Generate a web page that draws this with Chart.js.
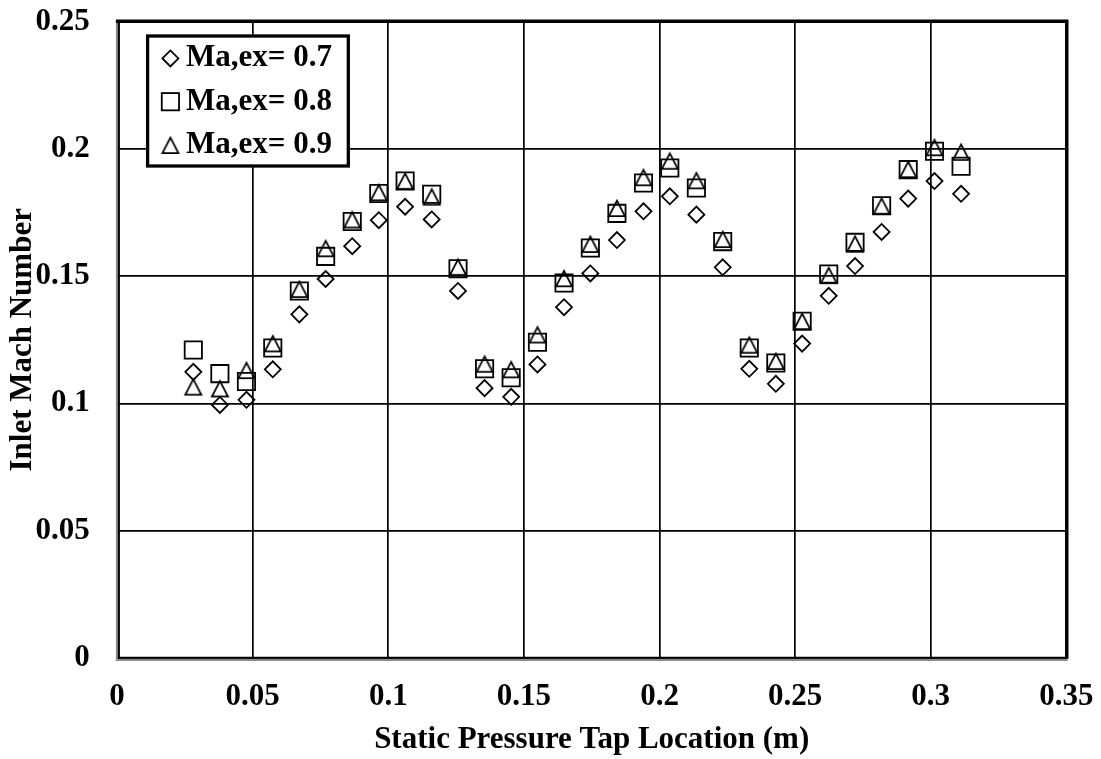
<!DOCTYPE html>
<html><head><meta charset="utf-8">
<script src="https://cdn.jsdelivr.net/npm/chart.js@4/dist/chart.umd.min.js"></script>
<style>html,body{margin:0;padding:0;background:#fff}canvas{display:block}</style>
</head><body>
<canvas id="c" width="1101" height="759"></canvas>
<script>
// ---- data ----
const seriesLabels = ['Ma,ex= 0.7', 'Ma,ex= 0.8', 'Ma,ex= 0.9'];
const tapLocation = [0.0281,0.0379,0.0477,0.0574,0.0672,0.0769,0.0867,0.0965,0.1062,0.1160,
                     0.1257,0.1355,0.1453,0.1550,0.1648,0.1745,0.1843,0.1941,0.2038,0.2136,
                     0.2233,0.2331,0.2429,0.2526,0.2624,0.2721,0.2819,0.2917,0.3014,0.3112];
const machEx07 = [0.1124,0.0994,0.1014,0.1134,0.1350,0.1489,0.1618,0.1720,0.1773,0.1723,
                  0.1442,0.1060,0.1026,0.1153,0.1378,0.1511,0.1642,0.1755,0.1814,0.1742,
                  0.1535,0.1136,0.1077,0.1235,0.1423,0.1540,0.1674,0.1805,0.1874,0.1824];
const machEx08 = [0.1210,0.1117,0.1086,0.1218,0.1442,0.1578,0.1715,0.1825,0.1874,0.1822,
                  0.1529,0.1136,0.1101,0.1240,0.1473,0.1611,0.1747,0.1866,0.1925,0.1847,
                  0.1636,0.1218,0.1159,0.1323,0.1509,0.1633,0.1777,0.1919,0.1991,0.1932];
const machEx09 = [0.1066,0.1059,0.1131,0.1236,0.1450,0.1610,0.1723,0.1830,0.1875,0.1813,
                  0.1537,0.1156,0.1134,0.1271,0.1492,0.1627,0.1768,0.1889,0.1954,0.1877,
                  0.1646,0.1231,0.1167,0.1324,0.1504,0.1628,0.1777,0.1921,0.2007,0.1989];
const xTickValues = [0, 0.05, 0.1, 0.15, 0.2, 0.25, 0.3, 0.35];
const xTickLabels = ['0', '0.05', '0.1', '0.15', '0.2', '0.25', '0.3', '0.35'];
const yTickValues = [0, 0.05, 0.1, 0.15, 0.2, 0.25];
const yTickLabels = ['0', '0.05', '0.1', '0.15', '0.2', '0.25'];
const xTitle = 'Static Pressure Tap Location (m)';
const yTitle = 'Inlet Mach Number';

// ---- styling ----
const FONT = "'Liberation Serif', 'Times New Roman', serif";
const LW = 1.8;

function pairs(xs, ys) { return xs.map((x, i) => ({x: x, y: ys[i]})); }

// centered open triangle marker
function makeTriangle() {
  const c = document.createElement('canvas');
  c.width = 24; c.height = 24;
  const g = c.getContext('2d');
  g.strokeStyle = '#000';
  g.lineWidth = LW;
  g.lineJoin = 'miter';
  g.beginPath();
  g.moveTo(12, 4.6);
  g.lineTo(12 + 8.0, 20.2);
  g.lineTo(12 - 8.0, 20.2);
  g.closePath();
  g.stroke();
  return c;
}
const triImg = makeTriangle();

function drawMarker(ctx, kind, x, y) {
  ctx.save();
  ctx.strokeStyle = '#000';
  ctx.lineWidth = LW;
  ctx.lineJoin = 'miter';
  if (kind === 'triangle') {
    ctx.drawImage(triImg, x - 12, y - 12);
  } else if (kind === 'rect') {
    const h = 12.2 * Math.SQRT1_2;
    ctx.strokeRect(x - h, y - h, 2 * h, 2 * h);
  } else {
    const r = 8;
    ctx.beginPath();
    ctx.moveTo(x - r, y); ctx.lineTo(x, y - r); ctx.lineTo(x + r, y); ctx.lineTo(x, y + r);
    ctx.closePath(); ctx.stroke();
  }
  ctx.restore();
}

const framePlugin = {
  id: 'frame',
  afterDatasetsDraw(chart) {
    const {ctx, chartArea: a} = chart;
    ctx.save();
    ctx.strokeStyle = '#8c8c8c';
    ctx.lineWidth = 2;
    ctx.beginPath();
    ctx.moveTo(a.left - 0.2, a.top); ctx.lineTo(a.left - 0.2, a.bottom + 2.1); ctx.lineTo(a.right + 1.5, a.bottom + 2.1);
    ctx.stroke();
    ctx.strokeStyle = '#000';
    ctx.lineWidth = 2;
    ctx.beginPath();
    ctx.moveTo(a.left + 1.8, a.top); ctx.lineTo(a.left + 1.8, a.bottom - 0.1); ctx.lineTo(a.right, a.bottom - 0.1);
    ctx.stroke();
    ctx.lineWidth = 3.4;
    ctx.beginPath();
    ctx.moveTo(a.left - 1.2, a.top - 0.5); ctx.lineTo(a.right + 0.5, a.top - 0.5); ctx.lineTo(a.right + 0.5, a.bottom + 1);
    ctx.stroke();
    ctx.restore();
  }
};

const legendPlugin = {
  id: 'boxLegend',
  afterDraw(chart) {
    const ctx = chart.ctx;
    ctx.save();
    ctx.fillStyle = '#fff';
    ctx.fillRect(147.6, 36, 200.7, 130);
    ctx.strokeStyle = '#000';
    ctx.lineWidth = 3.3;
    ctx.strokeRect(147.6, 36, 200.7, 130);
    const kinds = ['diamond', 'rect', 'triangle'];
    ctx.font = 'bold 31px ' + FONT;
    ctx.fillStyle = '#000';
    ctx.textBaseline = 'middle';
    ctx.textAlign = 'left';
    chart.data.datasets.forEach((ds, i) => {
      const cy = 58.4 + i * 43.3;
      drawMarker(ctx, kinds[i], 170.4, cy);
      ctx.fillText(ds.label, 186, cy);
    });
    ctx.restore();
  }
};

function zeroPad(s) { s.paddingLeft = 0; s.paddingRight = 0; s.paddingTop = 0; s.paddingBottom = 0; }

const tickFont = {family: FONT, size: 31, weight: 'bold', lineHeight: 1.2};

new Chart(document.getElementById('c'), {
  type: 'scatter',
  data: {
    datasets: [
      {label: seriesLabels[0], data: pairs(tapLocation, machEx07), pointStyle: 'rectRot', pointRadius: 8,
       borderColor: '#000', backgroundColor: 'rgba(0,0,0,0)', pointBorderWidth: LW, showLine: false},
      {label: seriesLabels[1], data: pairs(tapLocation, machEx08), pointStyle: 'rect', pointRadius: 12.2,
       borderColor: '#000', backgroundColor: 'rgba(0,0,0,0)', pointBorderWidth: LW, showLine: false},
      {label: seriesLabels[2], data: pairs(tapLocation, machEx09), pointStyle: triImg, pointRadius: 10,
       borderColor: '#000', backgroundColor: 'rgba(0,0,0,0)', pointBorderWidth: LW, showLine: false}
    ]
  },
  options: {
    responsive: false,
    animation: false,
    events: [],
    devicePixelRatio: 1,
    layout: {padding: {top: 21.8, right: 34.7, left: 0, bottom: 0}},
    plugins: {legend: {display: false}, tooltip: {enabled: false}, title: {display: false}},
    scales: {
      x: {
        type: 'linear', min: 0, max: 0.35,
        afterBuildTicks(s) { s.ticks = xTickValues.map(v => ({value: v})); },
        afterFit(s) { s.height = 101.2; zeroPad(s); },
        grid: {color: '#000', lineWidth: 1.7, drawTicks: false, tickLength: 0},
        border: {display: false},
        ticks: {font: tickFont, color: '#000', padding: 21, maxRotation: 0, autoSkip: false,
                callback: (v, i) => xTickLabels[i]},
        title: {display: true, text: xTitle, color: '#000', font: tickFont, padding: {top: 0, bottom: 0}}
      },
      y: {
        type: 'linear', min: 0, max: 0.25,
        afterBuildTicks(s) { s.ticks = yTickValues.map(v => ({value: v})); },
        afterFit(s) { s.width = 117.1; zeroPad(s); },
        grid: {color: '#000', lineWidth: 1.7, drawTicks: false, tickLength: 0},
        border: {display: false},
        ticks: {font: tickFont, color: '#000', padding: 27.3, autoSkip: false,
                callback: (v, i) => yTickLabels[i]},
        title: {display: true, text: yTitle, color: '#000', font: tickFont, padding: {top: 4.4, bottom: 0}}
      }
    }
  },
  plugins: [framePlugin, legendPlugin]
});
</script>
</body></html>
